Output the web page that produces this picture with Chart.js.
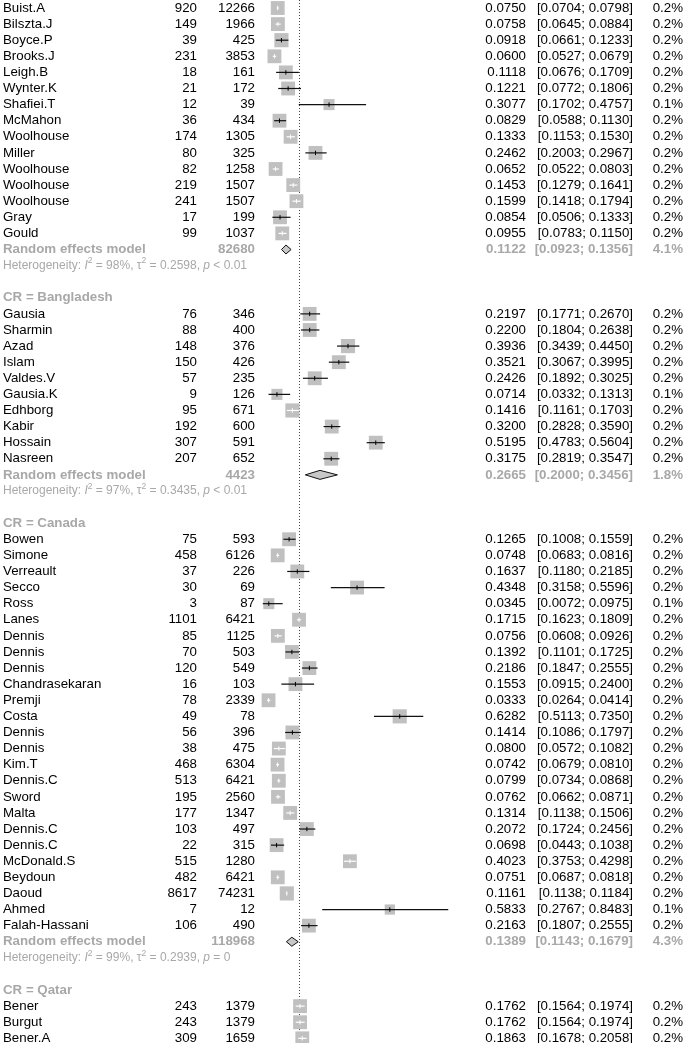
<!DOCTYPE html>
<html>
<head>
<meta charset="utf-8">
<script src="https://cdn.jsdelivr.net/npm/chart.js@4.4.1/dist/chart.umd.min.js"></script>
<style>
  html, body { margin: 0; padding: 0; background: #fff; }
  #wrap { width: 685px; height: 1043px; }
</style>
</head>
<body>
<div id="wrap"><canvas id="forest" width="685" height="1043"></canvas></div>
<script>
// subgroups (the first header sits above the visible part)
let groupLabels = [null, 'CR = Bangladesh', 'CR = Canada', 'CR = Qatar'];
let groupSizes = [15, 10, 25, 3];

let studies = ['Buist.A', 'Bilszta.J', 'Boyce.P', 'Brooks.J', 'Leigh.B', 'Wynter.K', 'Shafiei.T', 'McMahon', 'Woolhouse', 'Miller', 'Woolhouse', 'Woolhouse', 'Woolhouse', 'Gray', 'Gould',
  'Gausia', 'Sharmin', 'Azad', 'Islam', 'Valdes.V', 'Gausia.K', 'Edhborg', 'Kabir', 'Hossain', 'Nasreen',
  'Bowen', 'Simone', 'Verreault', 'Secco', 'Ross', 'Lanes', 'Dennis', 'Dennis', 'Dennis', 'Chandrasekaran', 'Premji', 'Costa', 'Dennis', 'Dennis', 'Kim.T', 'Dennis.C', 'Sword', 'Malta', 'Dennis.C', 'Dennis.C', 'McDonald.S', 'Beydoun', 'Daoud', 'Ahmed', 'Falah-Hassani',
  'Bener', 'Burgut', 'Bener.A'];

let events = [920, 149, 39, 231, 18, 21, 12, 36, 174, 80, 82, 219, 241, 17, 99,
  76, 88, 148, 150, 57, 9, 95, 192, 307, 207,
  75, 458, 37, 30, 3, 1101, 85, 70, 120, 16, 78, 49, 56, 38, 468, 513, 195, 177, 103, 22, 515, 482, 8617, 7, 106,
  243, 243, 309];

let totals = [12266, 1966, 425, 3853, 161, 172, 39, 434, 1305, 325, 1258, 1507, 1507, 199, 1037,
  346, 400, 376, 426, 235, 126, 671, 600, 591, 652,
  593, 6126, 226, 69, 87, 6421, 1125, 503, 549, 103, 2339, 78, 396, 475, 6304, 6421, 2560, 1347, 497, 315, 1280, 6421, 74231, 12, 490,
  1379, 1379, 1659];

let est = [0.0750, 0.0758, 0.0918, 0.0600, 0.1118, 0.1221, 0.3077, 0.0829, 0.1333, 0.2462, 0.0652, 0.1453, 0.1599, 0.0854, 0.0955,
  0.2197, 0.2200, 0.3936, 0.3521, 0.2426, 0.0714, 0.1416, 0.3200, 0.5195, 0.3175,
  0.1265, 0.0748, 0.1637, 0.4348, 0.0345, 0.1715, 0.0756, 0.1392, 0.2186, 0.1553, 0.0333, 0.6282, 0.1414, 0.0800, 0.0742, 0.0799, 0.0762, 0.1314, 0.2072, 0.0698, 0.4023, 0.0751, 0.1161, 0.5833, 0.2163,
  0.1762, 0.1762, 0.1863];

let lower = [0.0704, 0.0645, 0.0661, 0.0527, 0.0676, 0.0772, 0.1702, 0.0588, 0.1153, 0.2003, 0.0522, 0.1279, 0.1418, 0.0506, 0.0783,
  0.1771, 0.1804, 0.3439, 0.3067, 0.1892, 0.0332, 0.1161, 0.2828, 0.4783, 0.2819,
  0.1008, 0.0683, 0.1180, 0.3158, 0.0072, 0.1623, 0.0608, 0.1101, 0.1847, 0.0915, 0.0264, 0.5113, 0.1086, 0.0572, 0.0679, 0.0734, 0.0662, 0.1138, 0.1724, 0.0443, 0.3753, 0.0687, 0.1138, 0.2767, 0.1807,
  0.1564, 0.1564, 0.1678];

let upper = [0.0798, 0.0884, 0.1233, 0.0679, 0.1709, 0.1806, 0.4757, 0.1130, 0.1530, 0.2967, 0.0803, 0.1641, 0.1794, 0.1333, 0.1150,
  0.2670, 0.2638, 0.4450, 0.3995, 0.3025, 0.1313, 0.1703, 0.3590, 0.5604, 0.3547,
  0.1559, 0.0816, 0.2185, 0.5596, 0.0975, 0.1809, 0.0926, 0.1725, 0.2555, 0.2400, 0.0414, 0.7350, 0.1797, 0.1082, 0.0810, 0.0868, 0.0871, 0.1506, 0.2456, 0.1038, 0.4298, 0.0818, 0.1184, 0.8483, 0.2555,
  0.1974, 0.1974, 0.2058];

// weights in %, printed to 1 decimal
let weights = [0.22, 0.22, 0.23, 0.22, 0.22, 0.22, 0.14, 0.22, 0.22, 0.22, 0.22, 0.22, 0.22, 0.22, 0.22,
  0.22, 0.22, 0.23, 0.22, 0.22, 0.14, 0.23, 0.22, 0.22, 0.22,
  0.22, 0.22, 0.22, 0.22, 0.14, 0.22, 0.22, 0.22, 0.22, 0.22, 0.22, 0.23, 0.22, 0.22, 0.22, 0.22, 0.22, 0.22, 0.22, 0.22, 0.22, 0.22, 0.23, 0.12, 0.22,
  0.22, 0.22, 0.22];

let pooledTotal = [82680, 4423, 118968];
let pooledEst = [0.1122, 0.2665, 0.1389];
let pooledLower = [0.0923, 0.2000, 0.1143];
let pooledUpper = [0.1356, 0.3456, 0.1679];
let pooledWeight = [4.1, 1.8, 4.3];
let hetI2 = [98, 97, 99];
let hetTau2 = ['0.2598', '0.3435', '0.2939'];
let hetP = ['< 0.01', '< 0.01', '= 0'];

let overallEst = 0.1714;

// row layout
let rows = [];
let r = 0, k = 0;
groupSizes.forEach((n, g) => {
  if (groupLabels[g]) rows.push({type: 'head', g: g, row: r++});
  for (let j = 0; j < n; j++) rows.push({type: 'study', i: k++, row: r++});
  if (g < pooledEst.length) {
    rows.push({type: 'pooled', g: g, row: r++});
    rows.push({type: 'het', g: g, row: r++});
    r++;
  }
});
let studyRow = rows.filter(d => d.type == 'study').map(d => d.row);

let FONT = '"Liberation Sans", Arial, sans-serif';
let GREY = '#a8a8a8';

function boxSide(i) { return 29.5 * Math.sqrt(weights[i]); }

// CI drawn white when it stays inside the square
function ciInside(chart, i) {
  let x = chart.scales.x;
  let c = x.getPixelForValue(est[i]), h = boxSide(i) / 2 - 0.47;
  return x.getPixelForValue(lower[i]) >= c - h && x.getPixelForValue(upper[i]) <= c + h;
}

let boxPts = est.map((v, i) => ({x: v, y: studyRow[i]}));
let ciPts = [];
est.forEach((v, i) => {
  ciPts.push({x: lower[i], y: studyRow[i]});
  ciPts.push({x: upper[i], y: studyRow[i]});
  ciPts.push({x: null, y: null});
});

let forestText = {
  id: 'forestText',
  beforeDatasetsDraw(chart) {
    let ctx = chart.ctx, xs = chart.scales.x;
    let x = Math.round(xs.getPixelForValue(overallEst)) + 0.5;
    ctx.save();
    ctx.strokeStyle = '#444';
    ctx.lineWidth = 1;
    ctx.setLineDash([1, 2]);
    ctx.beginPath();
    ctx.moveTo(x, 0);
    ctx.lineTo(x, chart.height);
    ctx.stroke();
    ctx.restore();
  },
  afterDatasetsDraw(chart) {
    let ctx = chart.ctx, xs = chart.scales.x, ys = chart.scales.y;
    ctx.save();
    ctx.textBaseline = 'middle';
    let txt = (s, x, y, align, color, bold) => {
      ctx.font = (bold ? 'bold ' : '') + '13.3px ' + FONT;
      ctx.fillStyle = color;
      ctx.textAlign = align;
      ctx.fillText(s, x, y);
    };
    rows.forEach(d => {
      let y = ys.getPixelForValue(d.row);
      if (d.type == 'head') {
        txt(groupLabels[d.g], 3, y, 'left', GREY, true);
      } else if (d.type == 'study') {
        let i = d.i;
        txt(studies[i], 3, y, 'left', '#000');
        txt(String(events[i]), 197, y, 'right', '#000');
        txt(String(totals[i]), 255, y, 'right', '#000');
        txt(est[i].toFixed(4), 526, y, 'right', '#000');
        txt('[' + lower[i].toFixed(4) + '; ' + upper[i].toFixed(4) + ']', 633, y, 'right', '#000');
        txt(weights[i].toFixed(1) + '%', 683, y, 'right', '#000');
      } else if (d.type == 'pooled') {
        let g = d.g;
        txt('Random effects model', 3, y, 'left', GREY, true);
        txt(String(pooledTotal[g]), 255, y, 'right', GREY, true);
        txt(pooledEst[g].toFixed(4), 526, y, 'right', GREY, true);
        txt('[' + pooledLower[g].toFixed(4) + '; ' + pooledUpper[g].toFixed(4) + ']', 633, y, 'right', GREY, true);
        txt(pooledWeight[g].toFixed(1) + '%', 683, y, 'right', GREY, true);
        // diamond
        let xl = xs.getPixelForValue(pooledLower[g]);
        let xc = xs.getPixelForValue(pooledEst[g]);
        let xr = xs.getPixelForValue(pooledUpper[g]);
        ctx.beginPath();
        ctx.moveTo(xl, y);
        ctx.lineTo(xc, y - 4.5);
        ctx.lineTo(xr, y);
        ctx.lineTo(xc, y + 4.5);
        ctx.closePath();
        ctx.fillStyle = '#c8c8c8';
        ctx.fill();
        ctx.strokeStyle = '#111';
        ctx.lineWidth = 1;
        ctx.stroke();
      } else if (d.type == 'het') {
        let g = d.g;
        let parts = [
          ['Heterogeneity: ', ''], ['I', 'italic '], ['2', 'sup'],
          [' = ' + hetI2[g] + '%, \u03c4', ''], ['2', 'sup'],
          [' = ' + hetTau2[g] + ', ', ''], ['p', 'italic '], [' ' + hetP[g], '']
        ];
        let x = 3;
        ctx.fillStyle = GREY;
        ctx.textAlign = 'left';
        parts.forEach(p => {
          if (p[1] == 'sup') {
            ctx.font = '8.5px ' + FONT;
            ctx.fillText(p[0], x, y - 4.5);
          } else {
            ctx.font = p[1] + '12px ' + FONT;
            ctx.fillText(p[0], x, y);
          }
          x += ctx.measureText(p[0]).width;
        });
      }
    });
    ctx.restore();
  }
};

new Chart(document.getElementById('forest'), {
  type: 'scatter',
  data: {
    datasets: [{
      // tick at the estimate
      data: boxPts,
      order: 0,
      pointStyle: 'line',
      rotation: 90,
      pointRadius: 2.2,
      borderWidth: 1,
      pointBorderColor: ctx => ciInside(ctx.chart, ctx.dataIndex) ? '#fff' : '#000'
    }, {
      type: 'line',
      data: ciPts,
      order: 1,
      pointRadius: 0,
      borderWidth: 1.2,
      borderColor: '#000',
      spanGaps: false,
      segment: {
        borderColor: ctx => ciInside(ctx.chart, Math.floor(ctx.p0DataIndex / 3)) ? '#fff' : '#111'
      }
    }, {
      data: boxPts,
      order: 2,
      pointStyle: 'rect',
      pointRadius: ctx => boxSide(ctx.dataIndex) / Math.SQRT2,
      backgroundColor: '#c0c0c0',
      borderWidth: 0
    }]
  },
  options: {
    responsive: false,
    animation: false,
    events: [],
    layout: { padding: 0, autoPadding: false },
    plugins: {
      legend: { display: false },
      tooltip: { enabled: false }
    },
    scales: {
      x: { type: 'linear', display: false, min: -1.1846, max: 1.922 },
      y: { type: 'linear', display: false, reverse: true, min: -0.497, max: 64.29 }
    }
  },
  plugins: [forestText]
});
</script>
</body>
</html>
